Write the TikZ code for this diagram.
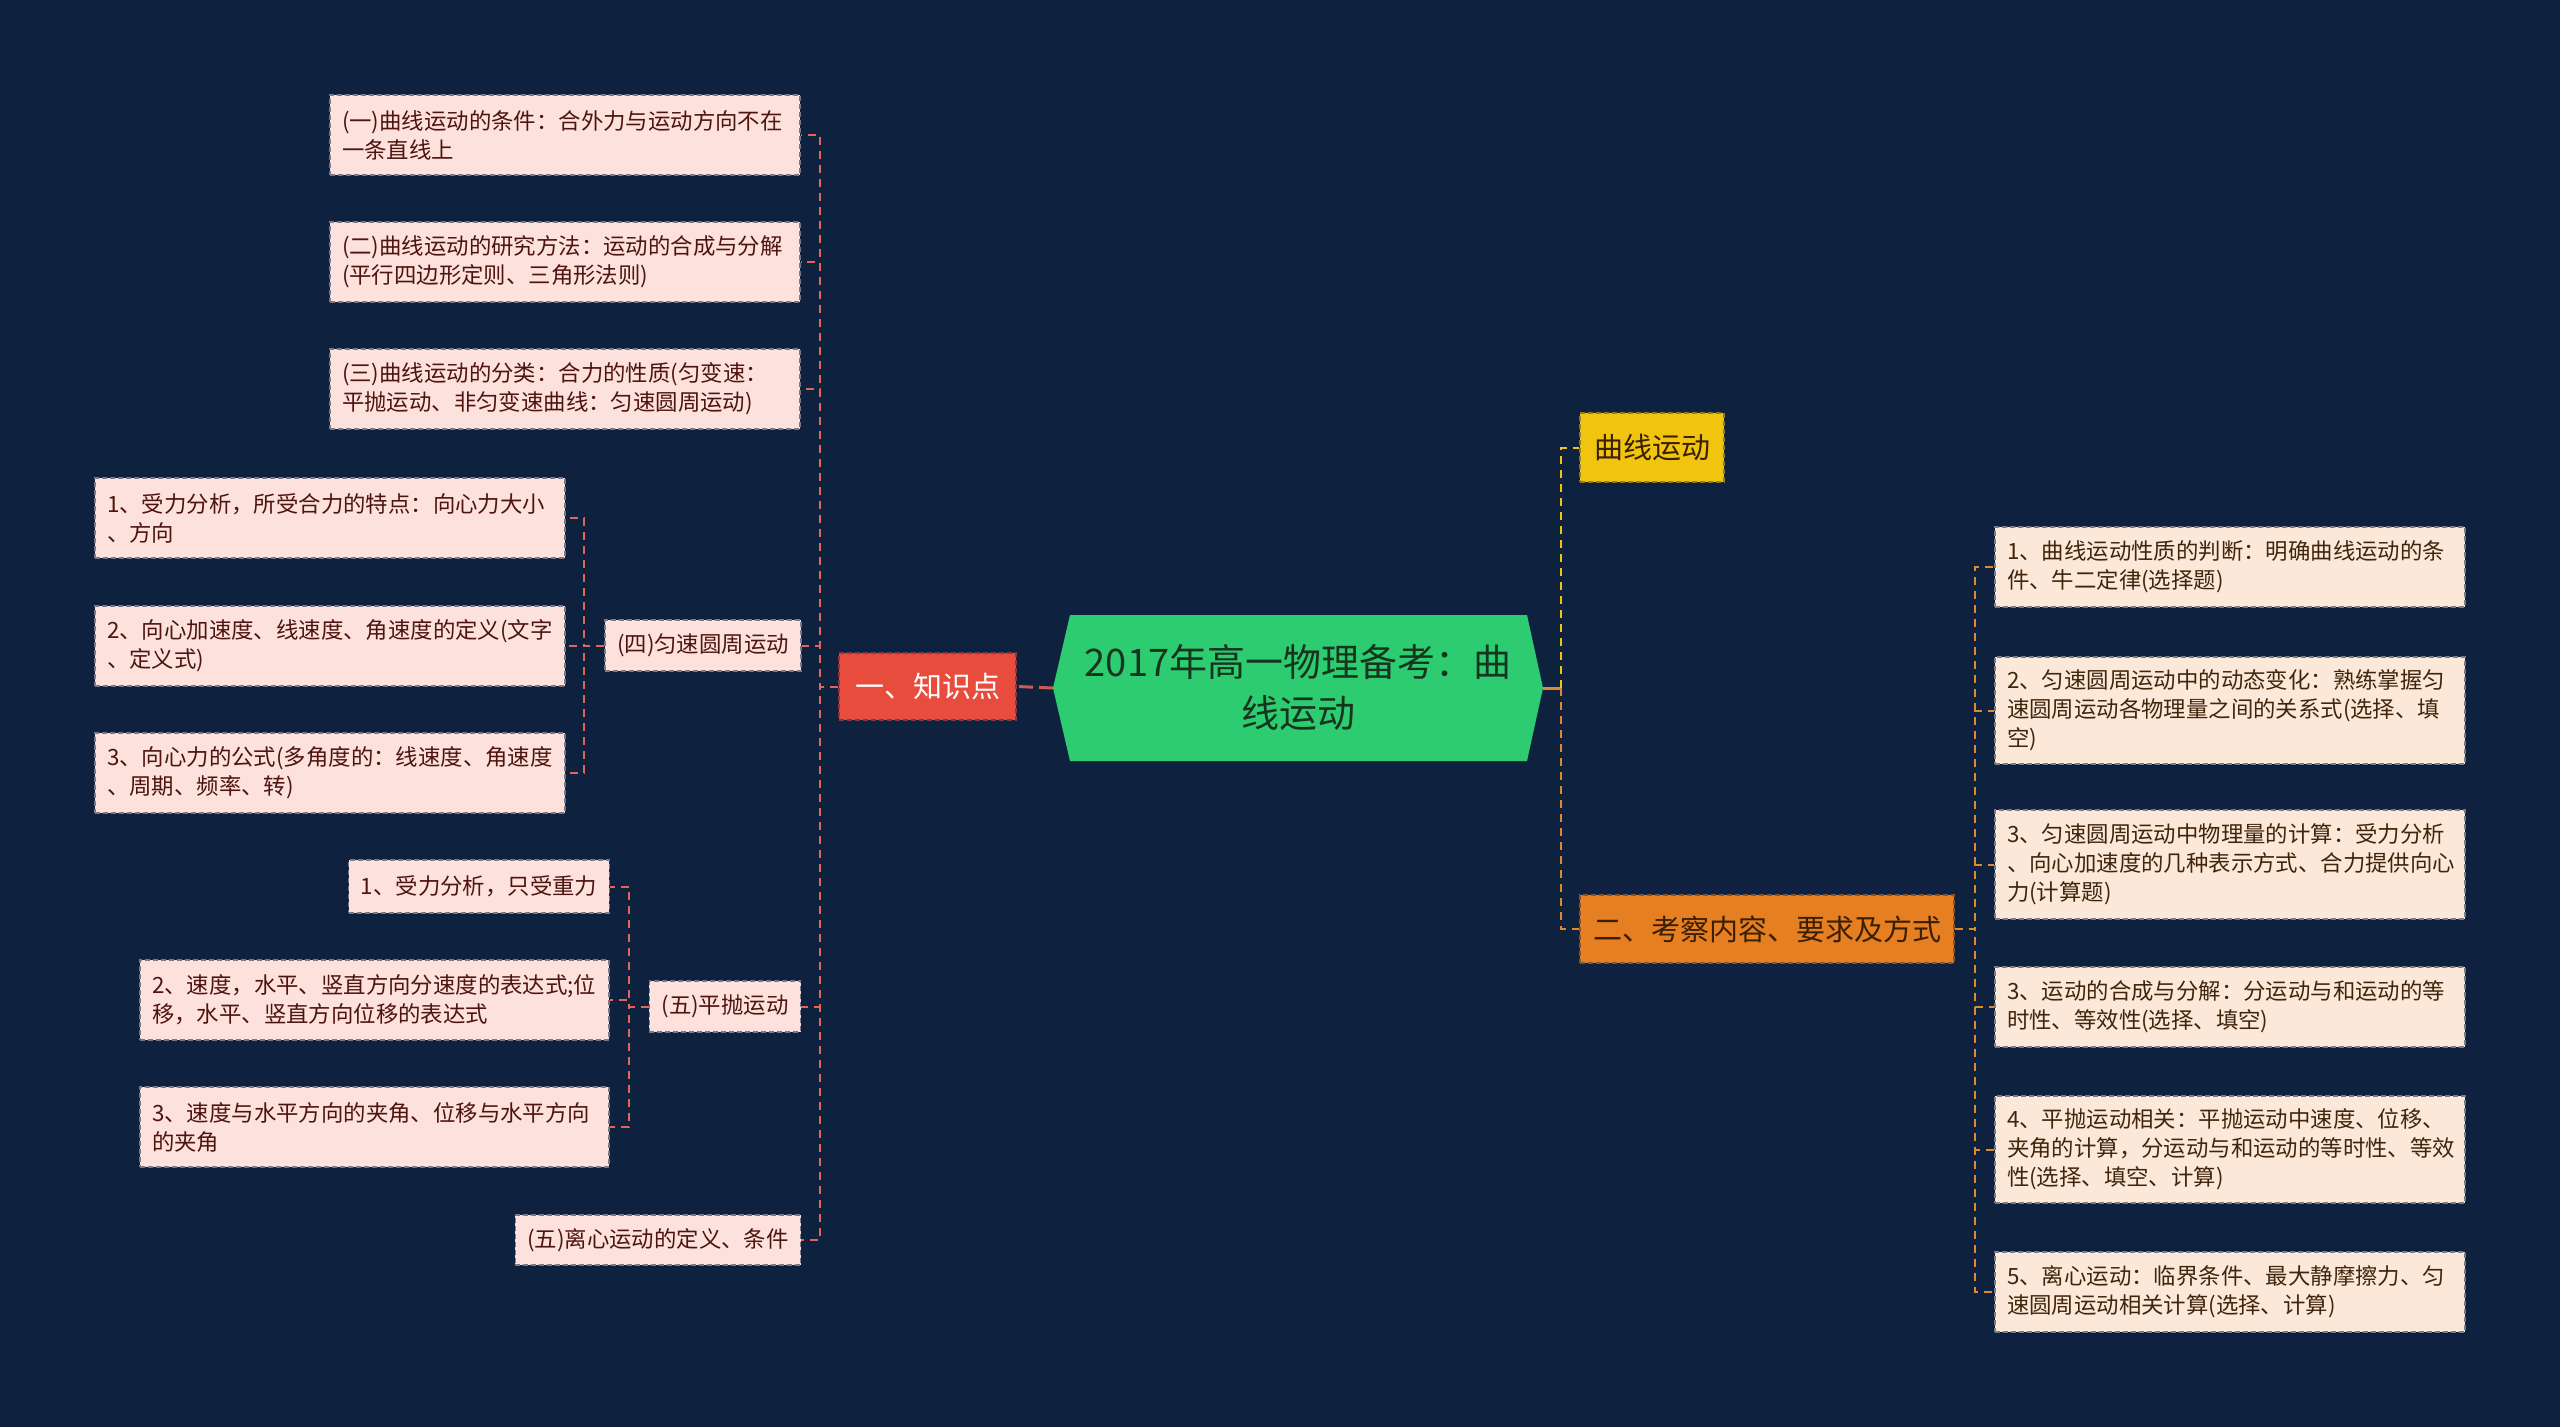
\documentclass[tikz,border=0pt]{standalone}
\usepackage{fontspec}
\setmainfont{Noto Sans CJK SC}
\definecolor{bg}{HTML}{0E2240}
\definecolor{pinkF}{HTML}{FDE1DC}
\definecolor{txtL}{HTML}{4E140F}
\definecolor{lineL}{HTML}{E0665A}
\definecolor{redN}{HTML}{E74C3C}
\definecolor{greenN}{HTML}{2ECC71}
\definecolor{txtG}{HTML}{16351F}
\definecolor{yelN}{HTML}{F1C40F}
\definecolor{orgN}{HTML}{E67E22}
\definecolor{txtO}{HTML}{3A1F00}
\definecolor{peachF}{HTML}{FCE8D9}
\definecolor{txtR}{HTML}{40250C}
\definecolor{lineO}{HTML}{E08A2E}
\begin{document}
\begin{tikzpicture}[x=1pt,y=-1pt,
  box/.style={rectangle, inner xsep=12pt, inner ysep=0pt, line width=1.4pt, dash pattern=on 5pt off 3pt},
  lbox/.style={box, fill=pinkF, draw=bg!55!pinkF, text=txtL, font={\fontsize{22.4pt}{29pt}\selectfont}},
  rbox/.style={box, fill=peachF, draw=bg!55!peachF, text=txtR, font={\fontsize{22.4pt}{29pt}\selectfont}},
  lw/.style={align=left, text width=446pt, minimum height=#1},
  lline/.style={draw=lineL, line width=2pt, dash pattern=on 8pt off 6pt},
  oline/.style={draw=lineO, line width=2pt, dash pattern=on 8pt off 6pt},
  yline/.style={draw=yelN, line width=2pt, dash pattern=on 8pt off 6pt},
  bignode/.style={box, font={\fontsize{29pt}{35pt}\selectfont}, align=center}
]
\useasboundingbox (0,0) rectangle (2560,1427);
\fill[bg] (0,0) rectangle (2560,1427);

% centre hexagon
\coordinate (hexL) at (1053,688);
\coordinate (hexR) at (1543,688);
\fill[greenN] (hexL) -- (1070,615) -- (1527,615) -- (hexR) -- (1527,761) -- (1070,761) -- cycle;
\node[text=txtG, font={\fontsize{38pt}{51pt}\selectfont}, align=center] (center) at (1298,688)
  {2017年高一物理备考：曲\\线运动};

% first level
\node[bignode, fill=redN, draw=bg!45!redN, text=white, minimum width=177pt, minimum height=67pt] (red) at (927.5,686.5) {一、知识点};
\node[bignode, fill=yelN, draw=bg!45!yelN, text=txtO, minimum width=144pt, minimum height=69pt] (yel) at (1652,447.5) {曲线运动};
\node[bignode, fill=orgN, draw=bg!45!orgN, text=txtO, minimum width=374pt, minimum height=68pt] (org) at (1767,929) {二、考察内容、要求及方式};

% left children
\node[lbox, lw=80pt] (L1) at (565,135) {(一)曲线运动的条件：合外力与运动方向不在\\一条直线上};
\node[lbox, lw=80pt] (L2) at (565,262) {(二)曲线运动的研究方法：运动的合成与分解\\(平行四边形定则、三角形法则)};
\node[lbox, lw=80pt] (L3) at (565,389) {(三)曲线运动的分类：合力的性质(匀变速：\\平抛运动、非匀变速曲线：匀速圆周运动)};
\node[lbox, minimum width=194pt, minimum height=51pt] (si) at (703,645.5) {(四)匀速圆周运动};
\node[lbox, lw=80pt] (A1) at (330,518) {1、受力分析，所受合力的特点：向心力大小\\、方向};
\node[lbox, lw=80pt] (A2) at (330,646) {2、向心加速度、线速度、角速度的定义(文字\\、定义式)};
\node[lbox, lw=80pt] (A3) at (330,773) {3、向心力的公式(多角度的：线速度、角速度\\、周期、频率、转)};
\node[lbox, minimum width=150pt, minimum height=51pt] (wu) at (725,1006.5) {(五)平抛运动};
\node[lbox, minimum width=260pt, minimum height=53pt] (B1) at (479,886.5) {1、受力分析，只受重力};
\node[lbox, lw=80pt, text width=445pt] (B2) at (374.5,1000) {2、速度，水平、竖直方向分速度的表达式;位\\移，水平、竖直方向位移的表达式};
\node[lbox, lw=80pt, text width=445pt] (B3) at (374.5,1127) {3、速度与水平方向的夹角、位移与水平方向\\的夹角};
\node[lbox, minimum width=284pt, minimum height=50pt] (lx) at (658,1240) {(五)离心运动的定义、条件};

% right children
\node[rbox, lw=80pt] (R1) at (2230,567) {1、曲线运动性质的判断：明确曲线运动的条\\件、牛二定律(选择题)};
\node[rbox, lw=107pt] (R2) at (2230,710.5) {2、匀速圆周运动中的动态变化：熟练掌握匀\\速圆周运动各物理量之间的关系式(选择、填\\空)};
\node[rbox, lw=109pt] (R3) at (2230,864.5) {3、匀速圆周运动中物理量的计算：受力分析\\、向心加速度的几种表示方式、合力提供向心\\力(计算题)};
\node[rbox, lw=80pt] (R4) at (2230,1007) {3、运动的合成与分解：分运动与和运动的等\\时性、等效性(选择、填空)};
\node[rbox, lw=107pt] (R5) at (2230,1149.5) {4、平抛运动相关：平抛运动中速度、位移、\\夹角的计算，分运动与和运动的等时性、等效\\性(选择、填空、计算)};
\node[rbox, lw=80pt] (R6) at (2230,1292) {5、离心运动：临界条件、最大静摩擦力、匀\\速圆周运动相关计算(选择、计算)};

% connectors: centre
\draw[draw=lineL!90!black, line width=3pt, dash pattern=on 14pt off 6pt] (hexL) -- (red.east);
\coordinate (jR) at (1561,688);
\draw[draw=lineO, line width=3pt] (hexR) -- (jR);
\draw[yline] (jR) |- (yel.west);
\draw[oline] (jR) |- (org.west);

% connectors: left
\coordinate (jL) at (820,686.5);
\foreach \c in {L1,L2,L3,si,wu,lx} \draw[lline] (red.west) -- (jL) |- (\c.east);
\coordinate (j4) at (584,645.5);
\foreach \c in {A1,A2,A3} \draw[lline] (si.west) -- (j4) |- (\c.east);
\coordinate (j5) at (629,1006.5);
\foreach \c in {B1,B2,B3} \draw[lline] (wu.west) -- (j5) |- (\c.east);

% connectors: right
\coordinate (j2) at (1975,929);
\foreach \c in {R1,R2,R3,R4,R5,R6} \draw[oline] (org.east) -- (j2) |- (\c.west);
\end{tikzpicture}
\end{document}
